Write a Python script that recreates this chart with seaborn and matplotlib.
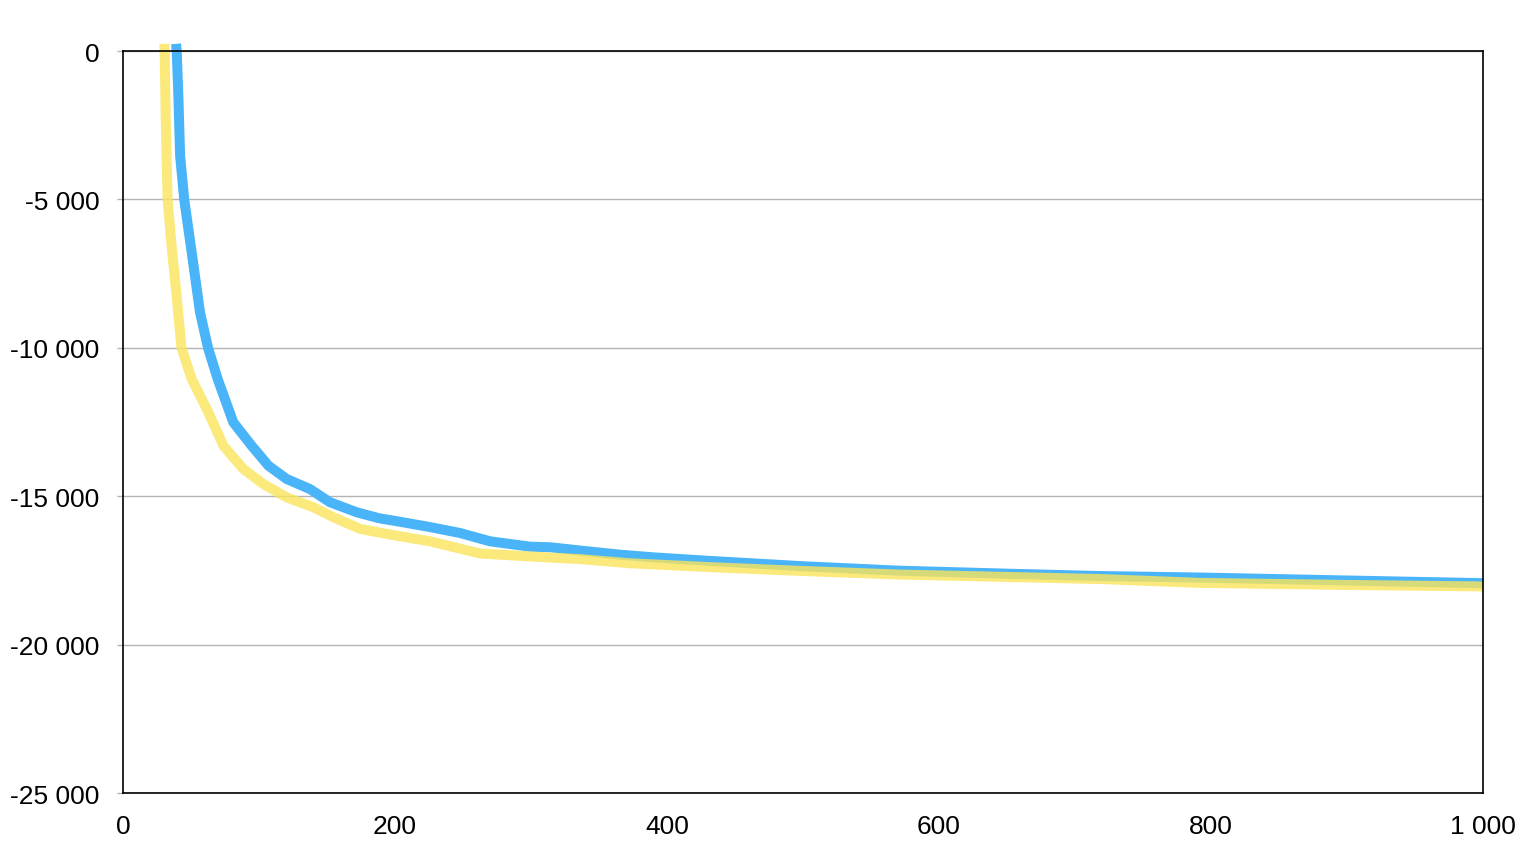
import matplotlib
matplotlib.use("Agg")
import matplotlib.pyplot as plt
from matplotlib.ticker import FuncFormatter, MultipleLocator
import seaborn as sns
import pandas as pd

blue_x = [39, 39.5, 40.7, 42, 45, 51.5, 56.6, 62.5, 69.6, 81.1, 94.6, 106.9, 120.3, 137.5,
          152, 171.8, 188, 201, 225.7, 247.8, 269.9, 299.3, 314, 336, 365.4, 390, 431.6,
          500, 571, 650, 718, 792, 900, 1000]
blue_y = [240, 0, -1500, -3530, -5000, -7110, -8800, -10000, -11050, -12510, -13300,
          -13970, -14420, -14760, -15200, -15540, -15740, -15840, -16040, -16240, -16520,
          -16700, -16720, -16830, -16970, -17060, -17180, -17360, -17510, -17610, -17690,
          -17740, -17840, -17930]

yellow_x = [30.4, 30.6, 31.5, 32.8, 35.7, 39.4, 43, 50.5, 62.7, 73.8, 88.4, 103.2, 120.3,
            139.9, 154.7, 174.3, 188, 201, 225.7, 262.5, 299.3, 336, 372.8, 431.6, 500,
            571, 650, 718, 792, 900, 1000]
yellow_y = [240, 0, -2500, -5000, -6560, -8240, -10000, -11050, -12170, -13300, -14080,
            -14590, -15040, -15370, -15710, -16100, -16220, -16330, -16520, -16930, -17030,
            -17120, -17260, -17390, -17520, -17640, -17720, -17790, -17920, -17990, -18040]

sns.set_theme(style="white")
plt.rcParams['font.family'] = ['Liberation Sans', 'DejaVu Sans']

fig = plt.figure(figsize=(15.34, 8.62), dpi=100)
ax = fig.add_axes([123/1534, 1 - 794/862, (1483-123)/1534, (794-52)/862])

df_b = pd.DataFrame({"x": blue_x, "y": blue_y})
df_y = pd.DataFrame({"x": yellow_x, "y": yellow_y})
sns.lineplot(data=df_b, x="x", y="y", ax=ax, color="#4ab4f8", linewidth=7.2, sort=False,
             solid_capstyle="butt", clip_on=False)
sns.lineplot(data=df_y, x="x", y="y", ax=ax, color="#fae45a", linewidth=7.2, alpha=0.8,
             sort=False, solid_capstyle="butt", clip_on=False)

ax.set_xlim(0, 1000)
ax.set_ylim(-25000, 0)
ax.xaxis.set_major_locator(MultipleLocator(200))
ax.yaxis.set_major_locator(MultipleLocator(5000))

def fmt(v, pos):
    s = f"{abs(int(round(v))):,}".replace(",", " ")
    return ("-" if v < 0 else "") + s

ax.xaxis.set_major_formatter(FuncFormatter(fmt))
ax.yaxis.set_major_formatter(FuncFormatter(fmt))

ax.grid(axis="y", color="#b4b4b4", linewidth=1)
ax.grid(axis="x", visible=False)
ax.set_axisbelow(True)
for s in ax.spines.values():
    s.set_visible(True)
    s.set_color("black")
    s.set_linewidth(1.2)

ax.tick_params(axis="y", length=4, color="#b4b4b4", width=1, pad=13, labelsize=19,
               labelcolor="black", left=True)
ax.tick_params(axis="x", length=0, pad=15, labelsize=19, labelcolor="black")
ax.set_xlabel("")
ax.set_ylabel("")

fig.savefig("out.png", dpi=100)
